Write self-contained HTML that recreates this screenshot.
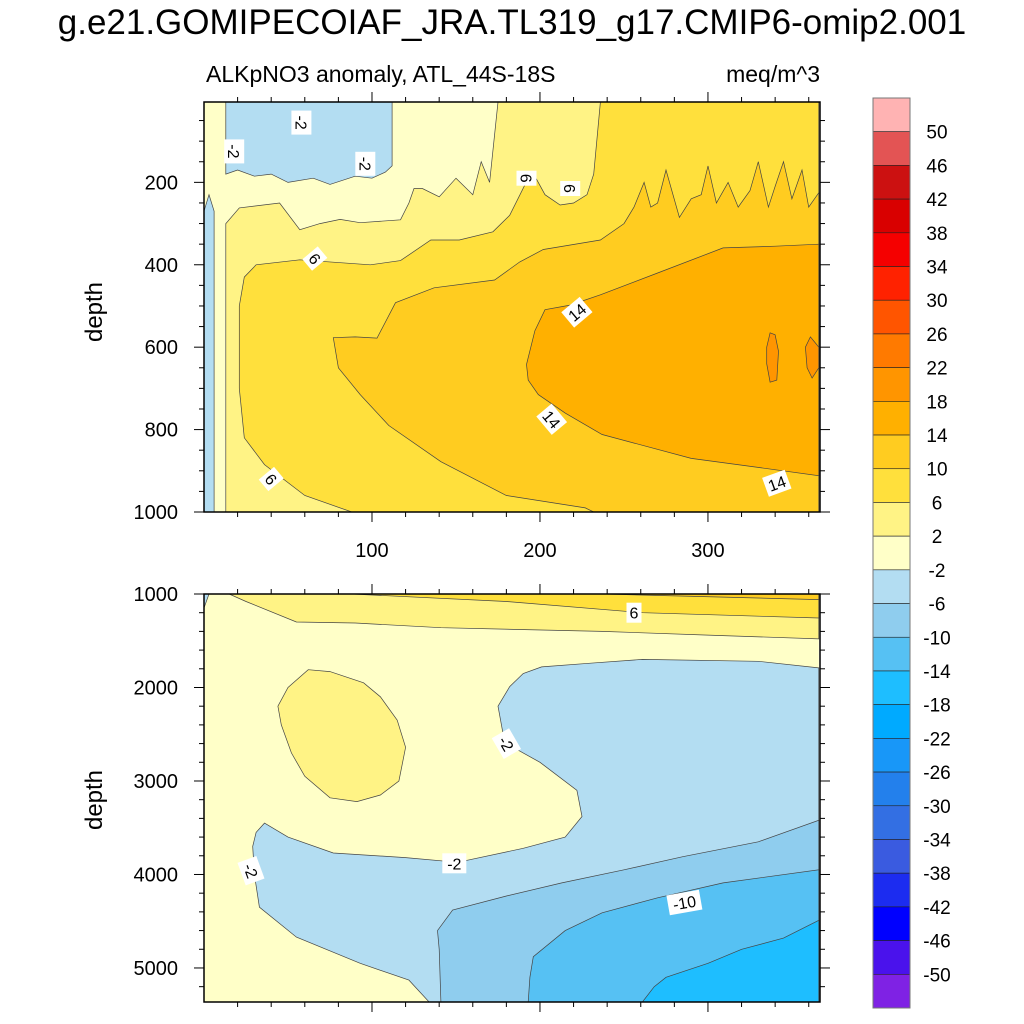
<!DOCTYPE html>
<html><head><meta charset="utf-8"><style>
html,body{margin:0;padding:0;background:#fff;}
svg{display:block;font-family:"Liberation Sans",Arial,sans-serif;}
</style></head><body>
<svg id="chart" width="1024" height="1024" viewBox="0 0 1024 1024">
<text x="512" y="34" font-size="35" text-anchor="middle">g.e21.GOMIPECOIAF_JRA.TL319_g17.CMIP6-omip2.001</text>
<text x="206" y="82" font-size="23">ALKpNO3 anomaly, ATL_44S-18S</text>
<text x="820" y="82" font-size="23" text-anchor="end">meq/m^3</text>
<text transform="translate(102,312) rotate(-90)" font-size="24" text-anchor="middle">depth</text>
<text transform="translate(102,800) rotate(-90)" font-size="24" text-anchor="middle">depth</text>
<g id="topPanel"></g>
<g id="botPanel"></g>
<g id="cbar"></g>
</svg>
<script>
// ---- colour scale ----
const levelLabels = [50,46,42,38,34,30,26,22,18,14,10,6,2,-2,-6,-10,-14,-18,-22,-26,-30,-34,-38,-42,-46,-50];
const levelColors = ["#ffb3b3","#e35454","#cc1111","#d90000","#f50000","#ff2200","#ff5500","#ff7a00","#ff9500","#ffb000","#ffcc20","#ffe03c","#fff385","#ffffc8","#b3ddf2","#8fcdee","#56c1f3","#1ebeff","#00aaff","#1897f8","#2380ec","#336fe3","#3a5be0","#1c2cf0","#0000ff","#4a12ec","#7f22e4"];
function colorFor(v){
  for(let i=0;i<levelLabels.length;i++){ if(v>=levelLabels[i]) return levelColors[i]; }
  return levelColors[levelColors.length-1];
}
// ---- axes data ----
const xTicks = [100,200,300];
const topDepthTicks = [200,400,600,800,1000];
const botDepthTicks = [1000,2000,3000,4000,5000];
// ---- top panel regions: band lower value, times, depths ----
const topBands = [
 {v:-2, t:[0,366,366,0], d:[5,5,1000,1000]},
 {v:2, t:[13,13,21,45,57,69,81,93,117,122,125,130,140,150,160,165,170,175,366,366], d:[1000,300,262,250,315,300,290,298,291,250,215,215,235,190,230,150,200,5,5,1000]},
 {v:6, t:[88,60,36,24,21,21,24,31,57,99,117,135,152,172,182,191,197,203,212,220,228,232,236,366,366], d:[1000,960,885,820,700,500,430,400,388,400,390,340,340,320,280,206,185,230,255,250,230,180,5,5,1000]},
 {v:10, t:[232,227,180,141,110,93,80,77,90,103,114,137,173,188,202,236,250,256,262,266,270,275,283,290,296,300,305,312,318,325,330,336,340,345,350,356,360,366,366], d:[1000,990,960,878,790,715,650,577,575,578,492,456,437,393,363,340,300,260,200,260,250,170,285,240,230,160,250,200,260,220,150,260,210,150,240,170,260,225,1000]},
 {v:14, t:[192,197,203,218,236,270,309,340,366,366,332,290,237,215,199,193], d:[642,560,509,498,473,420,359,355,350,912,893,870,812,760,715,680]},
 {v:18, t:[335,337,340,342,341,337,335], d:[600,565,570,610,680,685,640]},
 {v:18, t:[358,361,364,366,366,362,359], d:[600,575,590,600,650,675,650]},
 {v:-6, t:[13,112,112,108,100,90,75,65,50,40,30,20,13], d:[5,5,160,175,190,185,205,190,200,180,185,170,180]},
 {v:-6, t:[0,3,6,6,0], d:[270,230,270,1000,1000]}
];
// ---- bottom panel regions ----
const botBands = [
 {v:-2, t:[0,366,366,0], d:[1000,1000,5364,5364]},
 {v:2, t:[15,25,55,90,141,237,300,366,366], d:[1000,1080,1300,1310,1360,1400,1440,1480,1000]},
 {v:6, t:[88,180,261,366,366], d:[1000,1080,1200,1257,1000]},
 {v:10, t:[237,366,366], d:[1000,1060,1000]},
 {v:2, t:[62,75,95,105,115,120,116,105,91,75,60,52,46,44,50], d:[1810,1830,1950,2100,2350,2640,3000,3150,3220,3180,2950,2700,2400,2200,2000]},
 {v:-6, t:[366,330,261,230,201,190,182,175,179,200,222,225,215,190,151,120,77,50,36,31,29,30,33,55,93,122,134,366], d:[1790,1720,1700,1740,1780,1850,1990,2200,2590,2800,3100,3380,3600,3720,3870,3820,3770,3600,3450,3550,3700,4000,4350,4670,4950,5130,5364,5364]},
 {v:-10, t:[141,140,139,148,180,213,250,285,330,366,366], d:[5364,4800,4600,4380,4230,4090,3950,3810,3650,3420,5364]},
 {v:-14, t:[193,194,196,215,237,270,309,366,366], d:[5364,5100,4880,4600,4410,4250,4090,3950,5364]},
 {v:-18, t:[261,268,275,300,320,345,366,366], d:[5364,5200,5100,4950,4800,4680,4490,5364]},
 {v:-6, t:[0,3,0], d:[1000,1000,1150]}
];
// ---- contour labels ----
const topLabels = [{t:18,d:125,s:"-2",r:90},{t:58,d:55,s:"-2",r:90},{t:96,d:155,s:"-2",r:90},{t:192,d:190,s:"6",r:90},{t:218,d:215,s:"6",r:90},{t:66,d:385,s:"6",r:50},{t:40,d:920,s:"6",r:50},{t:222,d:515,s:"14",r:-40},{t:207,d:775,s:"14",r:50},{t:341,d:930,s:"14",r:-20}];
const botLabels = [{t:256,d:1200,s:"6",r:0},{t:180,d:2600,s:"-2",r:60},{t:149,d:3880,s:"-2",r:0},{t:28,d:3960,s:"-2",r:70},{t:286,d:4300,s:"-10",r:-10}];

const NS="http://www.w3.org/2000/svg";
const X0=204,X1=820,TMIN=0,TMAX=366.7;
function xScale(t){return X0+(t-TMIN)/(TMAX-TMIN)*(X1-X0);}
function makeY(y0,y1,dmin,dmax){return d=>y0+(d-dmin)/(dmax-dmin)*(y1-y0);}
const yTop=makeY(102,512,5,1000);
const yBot=makeY(594,1002,1000,5364);
function el(tag,attrs,parent){const e=document.createElementNS(NS,tag);for(const k in attrs)e.setAttribute(k,attrs[k]);parent.appendChild(e);return e;}

function drawPanel(g,bands,labels,yS,y0,y1,dTicks,minorStep,dmin,dmax,showX,name){
  const cid='clip-'+name;
  const defs=el('defs',{},g);
  const cp=el('clipPath',{id:cid},defs);
  el('rect',{x:X0,y:y0,width:X1-X0,height:y1-y0},cp);
  const fg=el('g',{'clip-path':'url(#'+cid+')'},g);
  bands.forEach((b,i)=>{
    const pts=b.t.map((t,j)=>xScale(t).toFixed(1)+','+yS(b.d[j]).toFixed(1)).join(' ');
    const p=el('polygon',{points:pts,fill:colorFor(b.v),stroke:i===0?'none':'#444','stroke-width':0.7},fg);
    
    
  });
  labels.forEach(l=>{
    const x=xScale(l.t),y=yS(l.d);
    const lg=el('g',{transform:`translate(${x.toFixed(1)},${y.toFixed(1)}) rotate(${l.r})`},fg);
    
    
    const w=l.s.length*9+6;
    el('rect',{x:-w/2,y:-10,width:w,height:20,fill:'#fff'},lg);
    const tx=el('text',{x:0,y:6,'font-size':16,'text-anchor':'middle'},lg);
    tx.textContent=l.s;
  });
  const fr=el('rect',{x:X0,y:y0,width:X1-X0,height:y1-y0,fill:'none',stroke:'#000','stroke-width':1.5},g);
  
  
  for(let t=20;t<=360;t+=20){
    const x=xScale(t),maj=(t%100===0),L=maj?10:5;
    el('line',{x1:x,y1:y0,x2:x,y2:y0-L,stroke:'#000','stroke-width':1},g);
    el('line',{x1:x,y1:y1,x2:x,y2:y1+L,stroke:'#000','stroke-width':1},g);
  }
  if(showX){
    xTicks.forEach(t=>{
      const tx=el('text',{x:xScale(t),y:y1+45,'font-size':20,'text-anchor':'middle'},g);
      
      
      tx.textContent=t;
    });
  }
  const startMinor=Math.ceil(dmin/minorStep)*minorStep;
  for(let d=startMinor;d<=dmax;d+=minorStep){
    const y=yS(d),maj=dTicks.includes(d),L=maj?10:5;
    el('line',{x1:X0,y1:y,x2:X0-L,y2:y,stroke:'#000','stroke-width':1},g);
    el('line',{x1:X1,y1:y,x2:X1+L,y2:y,stroke:'#000','stroke-width':1},g);
  }
  dTicks.forEach(d=>{
    const tx=el('text',{x:178,y:yS(d)+7,'font-size':20,'text-anchor':'end'},g);
    
    
    tx.textContent=d;
  });
}
drawPanel(document.getElementById('topPanel'),topBands,topLabels,yTop,102,512,topDepthTicks,50,5,1000,true,'top');
drawPanel(document.getElementById('botPanel'),botBands,botLabels,yBot,594,1002,botDepthTicks,200,1000,5364,false,'bottom');

const cb=document.getElementById('cbar');
const CB0=98,CB1=1008,bh=(CB1-CB0)/levelColors.length;
levelColors.forEach((c,i)=>{
  const r=el('rect',{x:873,y:CB0+i*bh,width:37,height:bh,fill:c,stroke:'#222','stroke-width':0.6},cb);
  
  
});
el('rect',{x:873,y:CB0,width:37,height:CB1-CB0,fill:'none',stroke:'#777','stroke-width':1},cb);
levelLabels.forEach((v,i)=>{
  const tx=el('text',{x:937,y:CB0+(i+1)*bh+7,'font-size':19,'text-anchor':'middle'},cb);
  
  
  tx.textContent=v;
});
</script>
</body></html>
